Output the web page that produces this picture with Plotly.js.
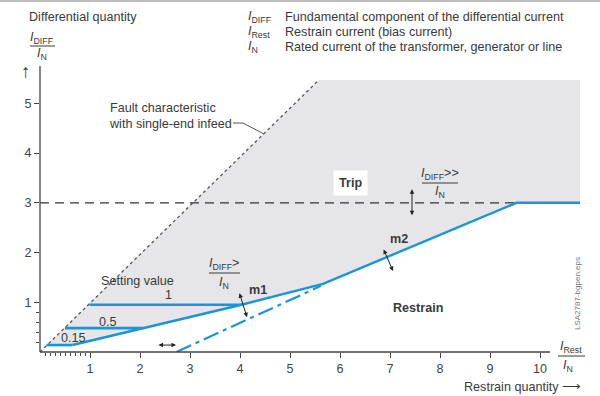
<!DOCTYPE html>
<html><head><meta charset="utf-8">
<script src="https://cdn.plot.ly/plotly-3.0.1.min.js"></script>
<style>html,body{margin:0;padding:0;background:#fff}#c{width:600px;height:396px}</style>
</head><body><div id="c"></div>
<script>
// ---- data ----
const xTicks = [1, 2, 3, 4, 5, 6, 7, 8, 9, 10];
const yTicks = [1, 2, 3, 4, 5];
const xMinor = [0.1, 0.2, 0.3, 0.4, 0.5, 0.6, 0.7, 0.8, 0.9];
const yMinor = [0.2, 0.4, 0.6, 0.8];
const faultX = [0, 5.58];
const faultY = [0, 5.47];
const settingLabels = ['0.15', '0.5', '1'];
const settingY = [0.14, 0.48, 0.95];
const settingStartX = [0.13, 0.5, 0.99];
const settingEndX = [0.65, 2.07, 4.03];
const charX = [0.65, 2.07, 4.03, 5.66, 9.53, 10.8];   // m1 -> m2 -> IDIFF>> limit
const charY = [0.14, 0.48, 0.95, 1.37, 3.0, 3.0];
const baseX = [2.73, 5.62];   // dash-dot m2 extension from base point
const baseY = [0, 1.33];
const highSetX = [0, 9.53];   // IDIFF>> dashed level
const highSetY = [3, 3];
const tripTop = 5.47;

// ---- helpers ----
const X = p => (p - 40) / 545, Y = p => (352 - p) / 286;
const C = '#3a3a3a', BLUE = '#1a95d8', F = 'Liberation Sans, Arial, sans-serif', FS = 12.6;

// gray trip area polygon
const polyX = [settingStartX[0]].concat(charX, [charX[charX.length - 1], faultX[1], settingStartX[0]]);
const polyY = [settingY[0]].concat(charY, [tripTop, faultY[1], settingY[0]]);

const traces = [
  {x: polyX, y: polyY, fill: 'toself', fillcolor: '#e6e6e8', line: {width: 0}, mode: 'lines'},
  {x: faultX, y: faultY, mode: 'lines', line: {color: '#555', width: 1.3, dash: '3px,3px'}},
  {x: highSetX, y: highSetY, mode: 'lines', line: {color: '#333', width: 1.2, dash: '9px,6px'}},
  {x: baseX, y: baseY, mode: 'lines', line: {color: BLUE, width: 2.2, dash: '16px,5px,4px,5px'}},
  {x: charX, y: charY, mode: 'lines', line: {color: BLUE, width: 2.4}}
];
settingY.forEach((v, i) => traces.push({x: [settingStartX[i], settingEndX[i]], y: [v, v], mode: 'lines', line: {color: BLUE, width: 2.6}}));

function P(text, px, py, o) {
  return Object.assign({xref: 'paper', yref: 'paper', x: X(px), y: Y(py), text: text, showarrow: false,
    xanchor: 'center', yanchor: 'middle', font: {family: F, size: FS, color: C}}, o || {});
}
function D(text, x, y, o) {
  return Object.assign({xref: 'x', yref: 'y', x: x, y: y, text: text, showarrow: false,
    xanchor: 'center', yanchor: 'middle', font: {family: F, size: FS, color: C}}, o || {});
}
function AR(x0, y0, x1, y1) {
  return {xref: 'x', yref: 'y', axref: 'x', ayref: 'y', x: x1, y: y1, ax: x0, ay: y0, text: '',
    showarrow: true, arrowside: 'end+start', arrowhead: 2, arrowsize: 0.9, arrowwidth: 1, arrowcolor: '#222'};
}
const I = s => '<i>I</i><sub>' + s + '</sub>';

const ann = [
  P('Differential quantity', 27, 17, {xanchor: 'left'}),
  P(I('DIFF'), 42, 38),
  P(I('N'), 42, 54),
  P('↑', 26, 72, {font: {family: F, size: 19, color: C}}),
  P(I('DIFF'), 246, 17, {xanchor: 'left'}),
  P(I('Rest'), 246, 32, {xanchor: 'left'}),
  P(I('N'), 246, 47, {xanchor: 'left'}),
  P('Fundamental component of the differential current', 283, 17, {xanchor: 'left'}),
  P('Restrain current (bias current)', 283, 32, {xanchor: 'left'}),
  P('Rated current of the transformer, generator or line', 283, 47, {xanchor: 'left'}),
  P('LSA2787-bgpen.eps', 577, 294, {textangle: -90, font: {family: F, size: 8, color: '#777'}}),
  P(I('Rest'), 571, 347),
  P(I('N'), 568, 366),
  P('Restrain quantity ⟶', 583, 387, {xanchor: 'right'}),
  P('Fault characteristic<br>with single-end infeed', 107, 116, {xanchor: 'left', align: 'left'}),
  P('Setting value', 137, 281),
  P(I('DIFF') + '&gt;', 224, 264),
  P(I('N'), 224, 283),
  P(I('DIFF') + '&gt;&gt;', 440, 174),
  P(I('N'), 440, 192),
  D('<b>Trip</b>', 6.2, 3.4, {bgcolor: '#fff', borderpad: 5}),
  D('<b>Restrain</b>', 7.56, 0.88),
  D('<b>m2</b>', 7.18, 2.27),
  D('<b>m1</b>', 4.36, 1.25),
  AR(3.98, 1.21, 4.14, 0.70),
  AR(6.86, 2.09, 7.06, 1.63),
  AR(7.44, 3.30, 7.44, 2.75),
  AR(2.34, 0.14, 2.72, 0.14)
];
settingLabels.forEach((s, i) => {
  const pos = [[0.66, 0.28], [1.36, 0.6], [2.56, 1.15]][i];
  ann.push(D(s, pos[0], pos[1]));
});

const ln = (x0, y0, x1, y1, o) => Object.assign({type: 'line', xref: 'paper', yref: 'paper', x0: X(x0), y0: Y(y0), x1: X(x1), y1: Y(y1), line: {color: C, width: 1}}, o || {});
const shapes = [
  ln(0, 1, 600, 1, {line: {color: '#bdbdbd', width: 2}}),
  ln(30, 46, 55, 46),          // y fraction bar
  ln(558, 356, 585, 356),      // x fraction bar
  ln(209, 273, 240, 273),      // IDIFF> bar
  ln(422, 183, 458, 183),      // IDIFF>> bar
  ln(40, 352, 550, 352, {line: {color: '#444', width: 1.3}}),   // x axis line
  ln(40, 352, 40, 66, {line: {color: '#444', width: 1.3}}),     // y axis line
  ln(233, 123, 243, 123, {line: {color: '#555', width: 1}}),    // leader
  ln(243, 123, 264, 134, {line: {color: '#555', width: 1}})
];

const axBase = {showgrid: false, zeroline: false, showline: false, ticks: 'outside', ticklen: 5,
  tickcolor: '#444', tickwidth: 1, tickfont: {family: F, size: FS, color: '#444'}, fixedrange: true};
const layout = {
  width: 600, height: 396, margin: {l: 40, r: 15, t: 66, b: 44},
  paper_bgcolor: '#fff', plot_bgcolor: '#fff', showlegend: false, hovermode: false,
  xaxis: Object.assign({}, axBase, {range: [0, 10.9], tickmode: 'array', tickvals: xTicks,
    minor: {tickmode: 'array', tickvals: xMinor, ticks: 'outside', ticklen: 3, tickcolor: '#444'}}),
  yaxis: Object.assign({}, axBase, {range: [0, 5.75], tickmode: 'array', tickvals: yTicks,
    minor: {tickmode: 'array', tickvals: yMinor, ticks: 'outside', ticklen: 3, tickcolor: '#444'}}),
  annotations: ann, shapes: shapes
};
Plotly.newPlot('c', traces, layout, {displayModeBar: false, staticPlot: true});
</script></body></html>
